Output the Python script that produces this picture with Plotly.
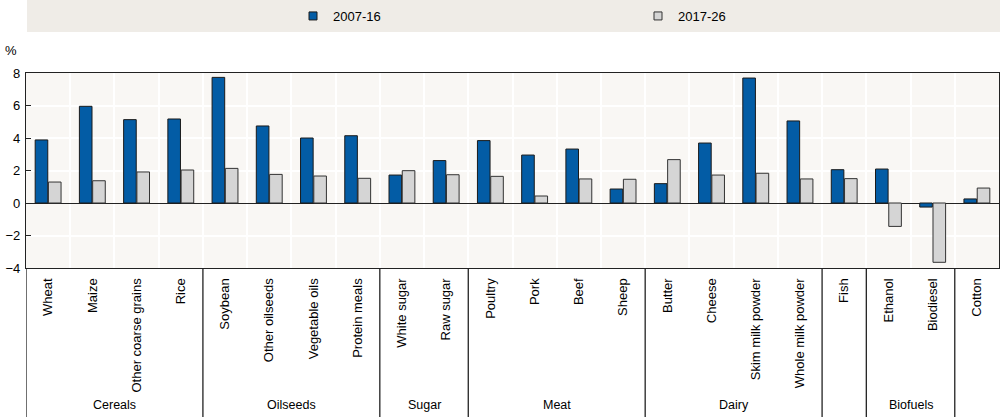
import plotly.graph_objects as go

categories = ["Wheat", "Maize", "Other coarse grains", "Rice",
              "Soybean", "Other oilseeds", "Vegetable oils", "Protein meals",
              "White sugar", "Raw sugar",
              "Poultry", "Pork", "Beef", "Sheep",
              "Butter", "Cheese", "Skim milk powder", "Whole milk powder",
              "Fish", "Ethanol", "Biodiesel", "Cotton"]
s_2007_16 = [3.88, 5.95, 5.13, 5.17,
             7.73, 4.74, 4.00, 4.14,
             1.72, 2.61,
             3.84, 2.95, 3.32, 0.86,
             1.19, 3.69, 7.69, 5.05,
             2.05, 2.09, -0.25, 0.25]
s_2017_26 = [1.29, 1.37, 1.91, 2.03,
             2.13, 1.76, 1.66, 1.52,
             1.99, 1.74,
             1.64, 0.43, 1.48, 1.46,
             2.67, 1.72, 1.83, 1.48,
             1.50, -1.44, -3.65, 0.92]
# group name, first index, last index (empty name = no label)
groups = [("Cereals", 0, 3), ("Oilseeds", 4, 7), ("Sugar", 8, 9), ("Meat", 10, 13),
          ("Dairy", 14, 17), ("", 18, 18), ("Biofuels", 19, 20), ("", 21, 21)]
series_names = ["2007-16", "2017-26"]

FONT = "Liberation Sans Narrow, Arial Narrow, Liberation Sans, Arial, sans-serif"
BLUE = "#035ca5"
GREY = "#d5d5d5"
xs = list(range(len(categories)))

fig = go.Figure()
fig.add_trace(go.Bar(x=xs, y=s_2007_16, name=series_names[0], marker=dict(color=BLUE, line=dict(color="#1a1a1a", width=1)), showlegend=False))
fig.add_trace(go.Bar(x=xs, y=s_2017_26, name=series_names[1], marker=dict(color=GREY, line=dict(color="#333333", width=1)), showlegend=False))
# legend entries
fig.add_trace(go.Scatter(x=[None], y=[None], mode="markers", name=series_names[0],
                         marker=dict(symbol="square", size=8, color=BLUE, line=dict(color="#1a1a1a", width=1))))
fig.add_trace(go.Scatter(x=[None], y=[None], mode="markers", name=series_names[1],
                         marker=dict(symbol="square", size=8, color=GREY, line=dict(color="#333333", width=1))))

H = 195.0  # plot height px
W = 973.0
def py(pix):  # pixel y from top -> paper
    return (268 - pix) / H
def px(pix):
    return (pix - 26) / W

shapes = []
# legend strip
shapes.append(dict(type="rect", xref="paper", yref="paper", x0=px(27), x1=px(1001), y0=py(32), y1=py(-2),
                   fillcolor="#efece7", line=dict(width=0), layer="below"))
# separators in label area
bounds = [-0.5] + [g[2] + 0.5 for g in groups[:-1]]
for b in bounds:
    shapes.append(dict(type="line", xref="x", yref="paper", x0=b, x1=b, y0=0, y1=py(418),
                       line=dict(color="#222222", width=1.3)))

annotations = []
for name, a, b in groups:
    if name:
        annotations.append(dict(x=(a + b) / 2, y=py(405), xref="x", yref="paper", text=name,
                                showarrow=False, font=dict(family=FONT, size=12.5, color="#000"),
                                xanchor="center", yanchor="middle"))
annotations.append(dict(x=px(11), y=py(50), xref="paper", yref="paper", text="%",
                        showarrow=False, font=dict(family=FONT, size=13, color="#000"),
                        xanchor="center", yanchor="middle"))

fig.update_layout(
    width=1000, height=417,
    margin=dict(l=26, r=1, t=73, b=149, autoexpand=False),
    paper_bgcolor="white", plot_bgcolor="#f9f7f4",
    barmode="group", bargap=0.4, bargroupgap=0.05,
    font=dict(family=FONT, size=13, color="#000"),
    showlegend=True,
    legend=dict(orientation="h", x=px(293), xanchor="left", y=py(16), yanchor="middle",
                bgcolor="rgba(0,0,0,0)", entrywidth=300, itemwidth=30,
                font=dict(family=FONT, size=13)),
    shapes=shapes, annotations=annotations,
    xaxis=dict(range=[-0.5, len(categories) - 0.5], tickmode="array", tickvals=xs, ticktext=categories,
               tickangle=-90, showgrid=False, ticks="", showline=True, mirror=True, automargin=False,
               linecolor="#222222", linewidth=1.3, ticklabelstandoff=4,
               minor=dict(tickmode="array", tickvals=[i + 0.5 for i in xs[:-1]], showgrid=True,
                          gridcolor="white", gridwidth=1.5, ticks=""),
               tickfont=dict(family=FONT, size=13), zeroline=False),
    yaxis=dict(range=[-4, 8], tickmode="linear", dtick=2, tick0=0, showgrid=True, gridcolor="white",
               gridwidth=1.5, ticks="inside", ticklen=5, tickcolor="#222222", showline=True, mirror=True,
               automargin=False, ticklabelstandoff=2,
               linecolor="#222222", linewidth=1.3, zeroline=True, zerolinecolor="#222222", zerolinewidth=1.3,
               tickfont=dict(family=FONT, size=13)),
)

fig.write_html("out.html", config={"displayModeBar": False},
               post_script="document.body.style.margin='0';document.body.style.padding='0';")
